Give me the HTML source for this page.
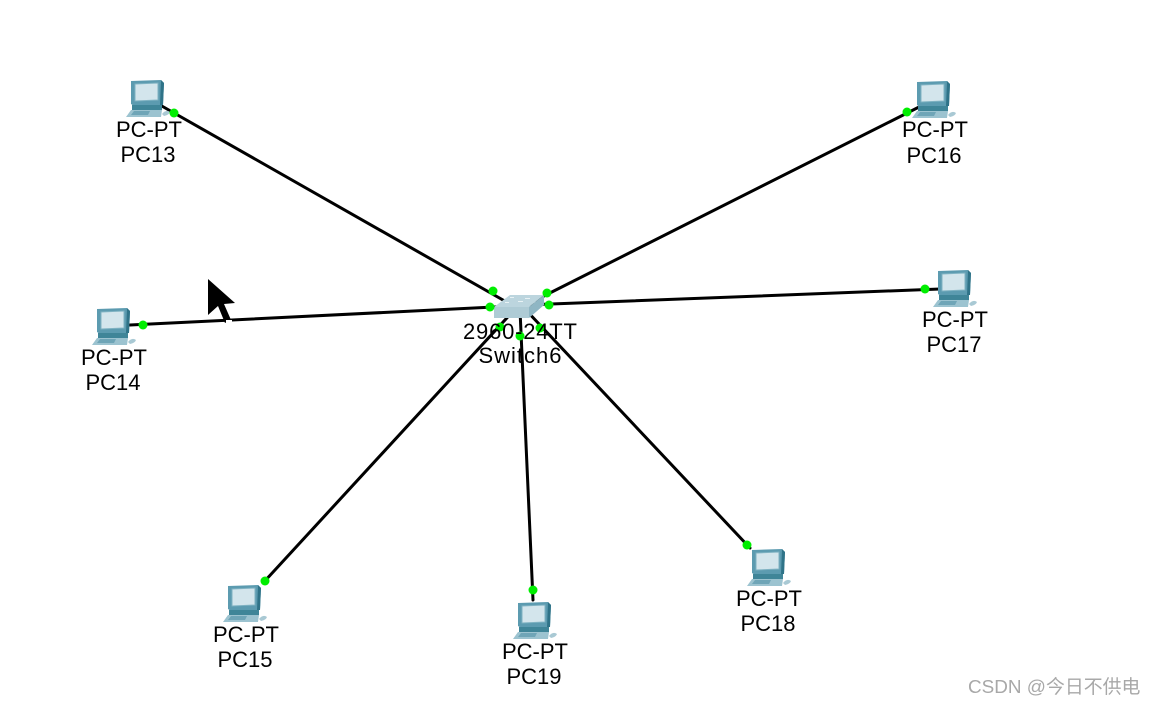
<!DOCTYPE html>
<html><head><meta charset="utf-8"><style>
html,body{margin:0;padding:0;background:#fff;width:1155px;height:705px;overflow:hidden}
svg{display:block}
text{font-family:"Liberation Sans",sans-serif;font-size:22px;fill:#000;text-anchor:middle}
.w{font-family:"Liberation Sans","Noto Sans CJK SC",sans-serif;font-size:18.9px;fill:#a8a8a8;text-anchor:start}
</style></head><body>
<svg width="1155" height="705" viewBox="0 0 1155 705" xmlns="http://www.w3.org/2000/svg">
<defs>
<g id="pc">
<polygon points="5,1 35,0 38,3 37,25 8,26 5,24" fill="#5c9bb0"/>
<polygon points="9,4 32,3 32,20 9,21" fill="#d3e5ec" stroke="#7fb2c2"/>
<polygon points="35,0 38,3 37,25 34,25" fill="#2f7388"/>
<polygon points="6,25 36,25 36,30 6,30" fill="#3f8598"/>
<polygon points="5,30 36,30 35,37 0,37" fill="#9cc3d0"/>
<polygon points="8,31 24,31 22,35 5,35" fill="#6fa5b7"/>
<path d="M36,34 q4,-5 8,-2 q-1,3 -6,4z" fill="#a9c9d4"/>
</g>
</defs>
<g stroke="#000" stroke-width="3" fill="none" stroke-linecap="round">
<line x1="160" y1="105" x2="510" y2="304"/>
<line x1="925" y1="104" x2="528" y2="304"/>
<line x1="130" y1="325" x2="515" y2="306"/>
<line x1="940" y1="289" x2="525" y2="305"/>
<line x1="263" y1="583" x2="516" y2="308"/>
<line x1="533" y1="600" x2="520" y2="310"/>
<line x1="750" y1="548" x2="524" y2="308"/>
</g>
<!-- cursor -->
<polygon points="208,279 208,315 218,306 225,323 231,320 224,304 235,303" fill="#000"/>
<rect x="226" y="320" width="6" height="3" fill="#fff"/>
<use href="#pc" x="126" y="80"/>
<use href="#pc" x="912" y="81"/>
<use href="#pc" x="92" y="308"/>
<use href="#pc" x="933" y="270"/>
<use href="#pc" x="223" y="585"/>
<use href="#pc" x="513" y="602"/>
<use href="#pc" x="747" y="549"/>
<!-- switch -->
<polygon points="494,307 510,295 544,295 529,307" fill="#bcd5de"/>
<polygon points="494,307 529,307 529,318 494,318" fill="#aecbd5"/>
<polygon points="529,307 544,295 544,305 529,318" fill="#8fb6c4"/>
<g fill="#e8f2f5"><rect x="505" y="302" width="4" height="1"/><rect x="518" y="301" width="5" height="1"/><rect x="510" y="297" width="4" height="1"/><rect x="525" y="298" width="5" height="1"/></g>
<g fill="#00ee00">
<circle cx="174" cy="113" r="4.5"/><circle cx="493" cy="291" r="4.5"/>
<circle cx="907" cy="112" r="4.5"/><circle cx="547" cy="293" r="4.5"/>
<circle cx="143" cy="325" r="4.5"/><circle cx="490" cy="307" r="4.5"/>
<circle cx="925" cy="289" r="4.5"/><circle cx="549" cy="305" r="4.5"/>
<circle cx="265" cy="581" r="4.5"/><circle cx="500" cy="327" r="4.5"/>
<circle cx="533" cy="590" r="4.5"/><circle cx="520" cy="336" r="4.5"/>
<circle cx="747" cy="545" r="4.5"/><circle cx="540" cy="328" r="4.5"/>
</g>
<text x="149" y="137">PC-PT</text><text x="148" y="162">PC13</text>
<text x="935" y="137">PC-PT</text><text x="934" y="163">PC16</text>
<text x="114" y="365">PC-PT</text><text x="113" y="390">PC14</text>
<text x="955" y="327">PC-PT</text><text x="954" y="352">PC17</text>
<text x="246" y="642">PC-PT</text><text x="245" y="667">PC15</text>
<text x="535" y="659">PC-PT</text><text x="534" y="684">PC19</text>
<text x="769" y="606">PC-PT</text><text x="768" y="631">PC18</text>
<text x="520" y="339" textLength="114" lengthAdjust="spacing">2960-24TT</text><text x="520" y="363" textLength="83" lengthAdjust="spacing">Switch6</text>
<text class="w" x="968" y="693">CSDN @今日不供电</text>
</svg>
</body></html>
